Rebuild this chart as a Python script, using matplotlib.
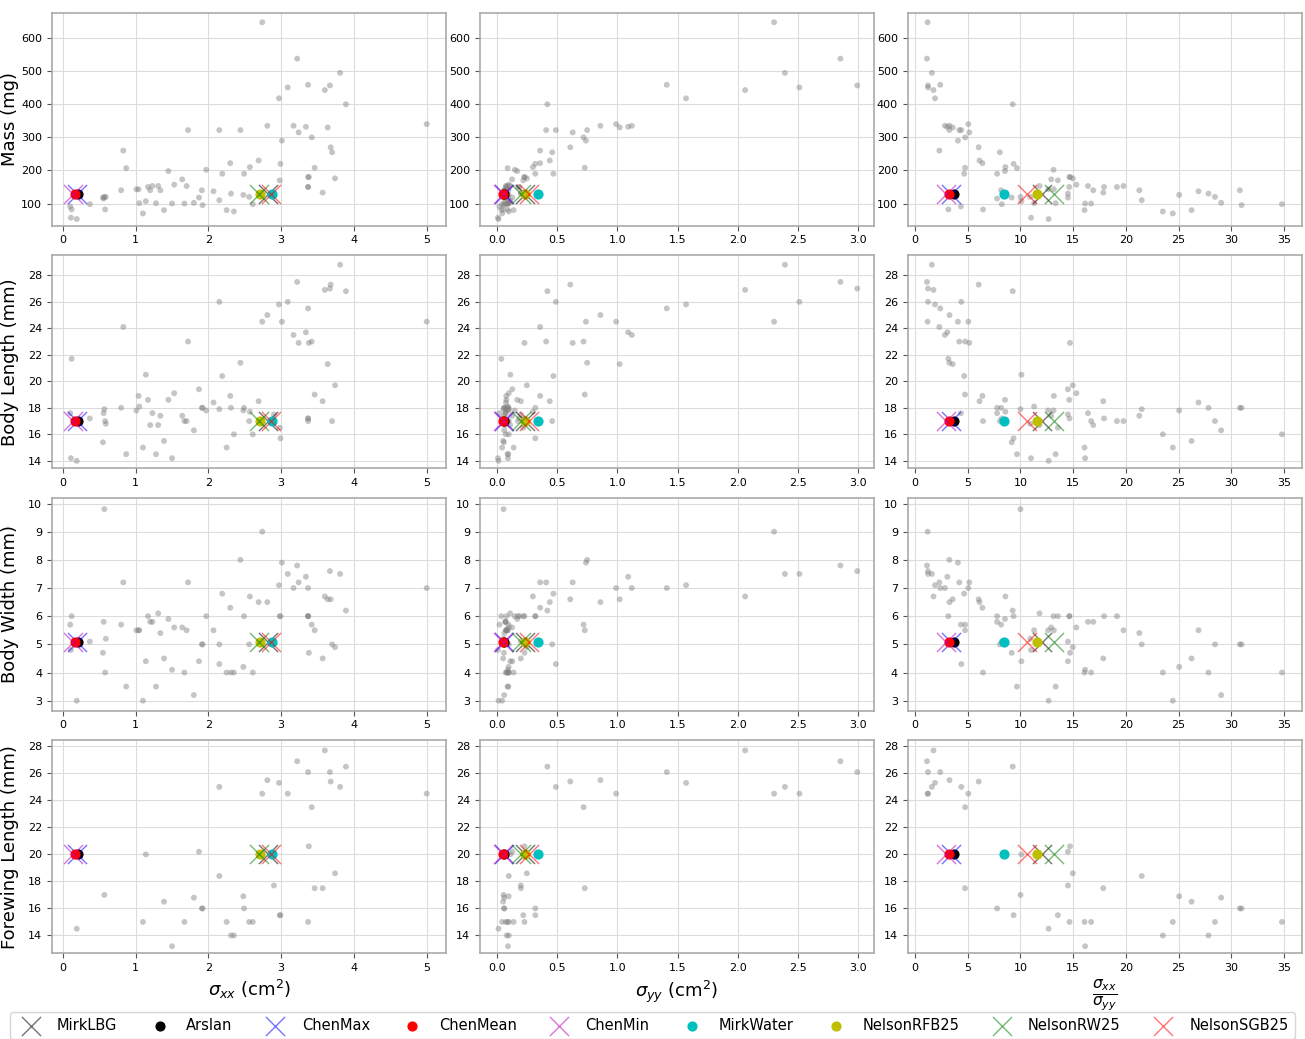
import numpy as np
import matplotlib
matplotlib.use("Agg")
import matplotlib.pyplot as plt

nan = np.nan

# ---------------------------------------------------------------
# insect measurements (one entry per specimen)
# ---------------------------------------------------------------
sigma_xx = [0.10, 0.12, 0.11, 0.19, 0.37, 0.56, 0.57, 0.59, 0.58, 0.55,
            0.80, 0.83, 0.87, 1.01, 1.04, 1.05, 1.10, 1.14, 1.17, 1.20,
            1.23, 1.31, 1.34, 1.28, 1.39, 1.45, 1.50, 1.53, 1.64, 1.67,
            1.70, 1.72, 1.80, 1.87, 1.91, 1.92, 1.97, 2.07, 2.15, 2.15,
            2.19, 2.25, 2.30, 2.31, 2.35, 2.44, 2.48, 2.49, 2.56, 2.57,
            2.61, 2.69, 2.74, 2.81, 2.97, 2.98, 2.99, 3.01, 3.09, 3.17,
            3.22, 3.24, 3.34, 3.37, 3.37, 3.38, 3.37, 3.37, 3.42, 3.46,
            3.57, 3.60, 3.64, 3.67, 3.68, 3.70, 3.74, 3.81, 3.89, 5.00,
            2.90]
sigma_yy = [0.023, 0.038, 0.010, 0.015, 0.045, 0.072, 0.057, 0.054, 0.090, 0.060,
            0.098, 0.360, 0.090, 0.080, 0.079, 0.093, 0.045, 0.113, 0.080, 0.071,
            0.075, 0.111, 0.063, 0.096, 0.053, 0.170, 0.093, 0.100, 0.127, 0.100,
            0.086, 0.410, 0.062, 0.129, 0.062, 0.062, 0.150, 0.077, 0.100, 0.490,
            0.470, 0.140, 0.360, 0.083, 0.100, 0.750, 0.099, 0.320, 0.090, 0.300,
            0.075, 0.440, 2.300, 0.860, 1.570, 0.220, 0.320, 0.740, 2.510, 1.120,
            2.850, 0.630, 1.090, 1.410, 0.230, 0.230, 0.188, 0.176, 0.720, 0.730,
            0.200, 2.060, 1.020, 2.990, 0.610, 0.460, 0.250, 2.390, 0.420, 0.990,
            0.200]
mass = [91, 82, 57, 53, 98, 115, 120, 120, 82, 118,
        140, 260, 207, 143, 143, 101, 70, 107, 150, 140,
        153, 153, 140, 101, 80, 198, 100, 157, 173, 100,
        153, 322, 102, 118, 140, 95, 202, 137, 110, 322,
        190, 80, 222, 130, 76, 322, 126, 190, 120, 210,
        98, 230, 648, 335, 418, 170, 220, 290, 451, 335,
        538, 315, 332, 459, 180, 180, 150, 150, 300, 208,
        133, 443, 330, 457, 270, 255, 176, 495, 400, 340,
        130]
body_length = [17.6, 21.7, 14.2, 14.0, 17.2, 17.6, 17.9, 16.8, 17.0, 15.4,
               18.0, 24.1, 14.5, 17.8, 18.9, 18.1, 15.0, 20.5, 18.6, 16.7,
               17.6, 16.7, 17.4, 14.5, 15.5, 18.6, 14.2, 19.1, 17.4, 17.0,
               17.0, 23.0, 16.3, 19.4, 18.0, 18.0, 17.8, 18.4, 17.9, 26.0,
               20.4, 15.0, 18.9, 18.0, 16.0, 21.4, 17.8, 18.0, 17.0, 17.7,
               16.0, 18.5, 24.5, 25.0, 25.8, 16.5, 15.7, 24.5, 26.0, 23.5,
               27.5, 22.9, 23.7, 25.5, 17.2, 22.9, 17.2, 17.0, 23.0, 19.0,
               18.5, 26.9, 21.3, 27.0, 27.3, 17.0, 19.7, 28.8, 26.8, 24.5,
               17.5]
body_width = [5.7, 6.0, 4.8, 3.0, 5.1, 5.8, 9.8, 5.2, 4.0, 4.7,
              5.7, 7.2, 3.5, 5.5, 5.5, 5.5, 3.0, 4.4, 6.0, 5.8,
              5.8, 6.1, 5.4, 3.5, 4.5, 5.9, 4.1, 5.6, 5.6, 4.0,
              5.5, 7.2, 3.2, 4.4, 5.0, 5.0, 6.0, 5.5, 5.0, 4.3,
              6.8, 4.0, 6.3, 4.0, 4.0, 8.0, 4.2, 6.0, 5.0, 6.7,
              4.0, 6.5, 9.0, 6.5, 7.1, 6.0, 6.0, 7.9, 7.5, 7.0,
              7.8, 7.2, 7.4, 7.0, 6.0, 4.7, 6.0, 6.0, 5.7, 5.5,
              4.5, 6.7, 6.6, 7.6, 6.6, 5.0, 4.9, 7.5, 6.2, 7.0,
              5.1]
forewing_length = [nan, nan, nan, 14.5, nan, nan, 17.0, nan, nan, nan,
                   nan, nan, nan, nan, nan, nan, 15.0, 20.0, nan, nan,
                   nan, nan, nan, nan, 16.5, nan, 13.2, nan, nan, 15.0,
                   nan, nan, 16.8, 20.2, 16.0, 16.0, nan, nan, 18.4, 25.0,
                   nan, 15.0, nan, 14.0, 14.0, nan, 16.9, 16.0, 15.0, nan,
                   15.0, nan, 24.5, 25.5, 25.3, 15.5, 15.5, nan, 24.5, nan,
                   26.9, nan, nan, 26.1, 15.0, 20.6, nan, nan, 23.5, 17.5,
                   17.5, 27.7, nan, 26.1, 25.4, nan, 18.6, 25.0, 26.5, 24.5,
                   17.7]

# ---------------------------------------------------------------
# model predictions
# ---------------------------------------------------------------
model_names = ["MirkLBG", "Arslan", "ChenMax", "ChenMean", "ChenMin",
               "MirkWater", "NelsonRFB25", "NelsonRW25", "NelsonSGB25"]
model_sxx = [2.82, 0.21, 0.20, 0.16, 0.145, 2.87, 2.71, 2.70, 2.86]
model_syy = [0.235, 0.057, 0.058, 0.05, 0.05, 0.34, 0.235, 0.205, 0.27]
# model values for mass, body length, body width, forewing length
model_traits = [130, 17.0, 5.1, 20.0]

model_style = {
    "MirkLBG":     dict(marker="x", color="k", alpha=0.55, s=190, linewidths=1.0),
    "Arslan":      dict(marker="o", color="k", s=40),
    "ChenMax":     dict(marker="x", color="b", alpha=0.55, s=190, linewidths=1.0),
    "ChenMean":    dict(marker="o", color="r", s=40),
    "ChenMin":     dict(marker="x", color="m", alpha=0.55, s=190, linewidths=1.0),
    "MirkWater":   dict(marker="o", color="c", s=40),
    "NelsonRFB25": dict(marker="o", color="y", s=40),
    "NelsonRW25":  dict(marker="x", color="g", alpha=0.55, s=190, linewidths=1.0),
    "NelsonSGB25": dict(marker="x", color="r", alpha=0.55, s=190, linewidths=1.0),
}

# ---------------------------------------------------------------
# plotting
# ---------------------------------------------------------------
sxx = np.array(sigma_xx)
syy = np.array(sigma_yy)
ratio = sxx / syy
m_sxx = np.array(model_sxx)
m_syy = np.array(model_syy)
m_ratio = m_sxx / m_syy

rows = [np.array(mass, float), np.array(body_length), np.array(body_width),
        np.array(forewing_length)]
row_labels = ["Mass (mg)", "Body Length (mm)", "Body Width (mm)",
              "Forewing Length (mm)"]
row_ticks = [np.arange(100, 601, 100), np.arange(14, 29, 2),
             np.arange(3, 11, 1), np.arange(14, 29, 2)]
row_lims = [(33, 676), (13.45, 29.5), (2.65, 10.2), (12.7, 28.45)]

cols = [(sxx, m_sxx), (syy, m_syy), (ratio, m_ratio)]
col_labels = [r"$\sigma_{xx}$ (cm$^2$)", r"$\sigma_{yy}$ (cm$^2$)",
              r"$\frac{\sigma_{xx}}{\sigma_{yy}}$"]
col_label_size = [13, 13, 16]
col_ticks = [np.arange(0, 6, 1), [0, 0.5, 1.0, 1.5, 2.0, 2.5, 3.0],
             np.arange(0, 36, 5)]
col_lims = [(-0.15, 5.27), (-0.14, 3.13), (-0.7, 36.7)]

fig, axes = plt.subplots(4, 3, figsize=(13.05, 10.39), dpi=100)
fig.subplots_adjust(left=52/1305, right=1302/1305, top=1-13/1039,
                    bottom=1-953/1039, wspace=0.085, hspace=0.14)

handles = {}
for r in range(4):
    for c in range(3):
        ax = axes[r, c]
        xdata, mx = cols[c]
        ydata = rows[r]
        ax.scatter(xdata, ydata, s=18, color="gray", alpha=0.45,
                   edgecolors="none", zorder=2)
        for i, name in enumerate(model_names):
            h = ax.scatter([mx[i]], [model_traits[r]], zorder=3,
                           label=name, **model_style[name])
            handles[name] = h
        ax.set_xlim(col_lims[c])
        ax.set_ylim(row_lims[r])
        ax.set_xticks(col_ticks[c])
        ax.set_yticks(row_ticks[r])
        ax.grid(True, color="#dcdcdc", linewidth=0.8, zorder=0)
        ax.set_axisbelow(True)
        for sp in ax.spines.values():
            sp.set_color("#aaaaaa")
            sp.set_linewidth(1.2)
        ax.tick_params(labelsize=8, length=3.5, color="#555555")
        if c == 0:
            ax.set_ylabel(row_labels[r], fontsize=13)
            ax.yaxis.set_label_coords(-0.083, 0.5)
        if r == 3:
            ax.set_xlabel(col_labels[c], fontsize=col_label_size[c])

fig.legend([handles[n] for n in model_names], model_names,
           loc="lower left", bbox_to_anchor=(0.008, 0.0, 0.984, 0.03),
           mode="expand", ncol=9, fontsize=10.5, frameon=True,
           borderaxespad=0.0, handletextpad=0.8)

plt.savefig("out.png", dpi=100)
plt.close()
